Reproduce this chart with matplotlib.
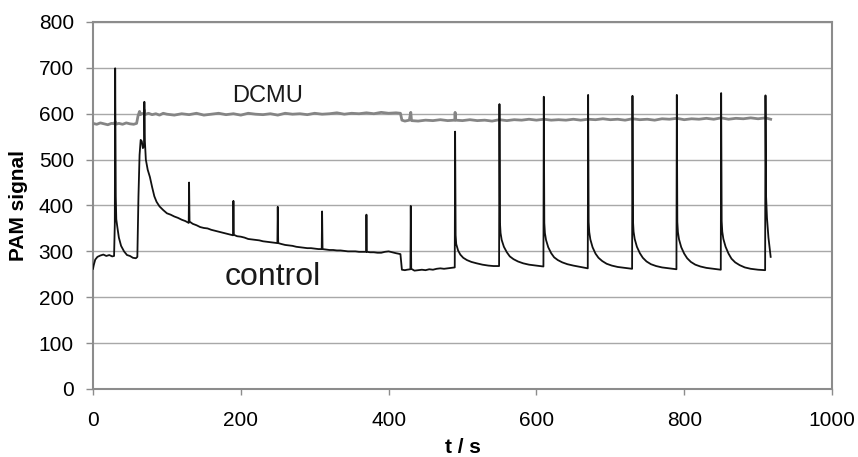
import numpy as np
import matplotlib
matplotlib.use("Agg")
import matplotlib.pyplot as plt

# PAM fluorescence traces as (t in s, signal) points
control_pts = [
    (0, 262), (1, 270), (3, 282), (6, 288), (10, 291), (14, 293), (18, 290),
    (22, 292), (26, 289), (28.5, 290), (29.5, 360), (30, 699), (30.8, 420),
    (31.5, 370), (33, 352), (35, 330), (38, 312), (42, 300), (46, 292),
    (50, 290), (54, 286), (58, 285), (60, 288), (61.5, 420), (63, 510),
    (64.5, 543), (66, 540), (67.5, 525), (69, 530), (69.5, 626), (70.2, 540),
    (71.5, 500), (74, 478), (77, 462), (80, 440), (83, 420), (86, 408),
    (90, 398), (95, 390), (100, 383), (105, 380), (110, 376), (115, 373),
    (120, 369), (125, 366), (129.5, 362), (130, 450), (130.6, 365),
    (135, 360), (140, 357), (145, 353), (150, 351), (155, 350), (160, 347),
    (165, 345), (170, 343), (175, 341), (180, 339), (185, 337), (189.5, 335),
    (190, 410), (190.6, 336), (195, 333), (200, 332), (205, 330), (210, 327),
    (215, 326), (220, 325), (225, 324), (230, 322), (235, 321), (240, 320),
    (245, 319), (249.5, 318), (250, 397), (250.6, 318), (255, 316),
    (260, 314), (265, 313), (270, 312), (275, 310), (280, 309), (285, 308),
    (290, 307), (295, 307), (300, 306), (305, 305), (309.5, 305), (310, 387),
    (310.6, 305), (315, 304), (320, 303), (325, 303), (330, 302), (335, 302),
    (340, 301), (345, 300), (350, 300), (355, 300), (360, 299), (364, 299),
    (369.5, 299), (370, 380), (370.6, 299), (375, 298), (380, 298),
    (385, 297), (390, 297), (395, 299), (400, 300), (405, 298), (410, 296),
    (416, 294), (418, 260), (422, 259), (425, 260), (429.5, 261), (430, 399),
    (430.6, 262), (435, 258), (440, 259), (445, 260), (450, 259), (455, 261),
    (460, 260), (465, 262), (470, 263), (475, 262), (480, 263), (485, 264),
    (489.5, 265),
    # flashes every 60 s
    (490, 561), (490.7, 335), (491.5, 316), (494, 302), (497, 293),
    (501, 286), (506, 281), (512, 277), (519, 274), (527, 271), (535, 269),
    (542, 268), (549.5, 268),
    (550, 621), (550.7, 362), (551.5, 340), (553, 325), (556, 310),
    (560, 298), (564, 289), (569, 283), (575, 278), (582, 274), (590, 271),
    (600, 269), (609.5, 267),
    (610, 637), (610.7, 362), (611.5, 340), (613, 325), (616, 309),
    (620, 296), (624, 287), (629, 281), (635, 276), (642, 272), (650, 269),
    (660, 266), (669.5, 263),
    (670, 641), (670.7, 364), (671.5, 342), (673, 326), (676, 309),
    (680, 295), (684, 286), (689, 279), (695, 273), (702, 269), (710, 266),
    (720, 264), (729.5, 262),
    (730, 639), (730.7, 366), (731.5, 343), (733, 327), (736, 310),
    (740, 296), (744, 286), (749, 278), (755, 272), (762, 268), (770, 265),
    (780, 263), (789.5, 261),
    (790, 641), (790.7, 364), (791.5, 342), (793, 326), (796, 309),
    (800, 295), (804, 285), (809, 277), (815, 271), (822, 267), (830, 264),
    (840, 262), (849.5, 260),
    (850, 645), (850.7, 366), (851.5, 343), (853, 327), (856, 310),
    (860, 295), (864, 284), (869, 276), (875, 270), (882, 265), (890, 262),
    (900, 260), (909.5, 259),
    (910, 640), (910.8, 420), (912, 373), (914, 330), (917, 288),
]

dcmu_pts = [
    (0, 579), (5, 577), (10, 580), (15, 578), (20, 576), (25, 579),
    (29.8, 578), (30, 583), (30.4, 577), (35, 579), (40, 577), (45, 580),
    (50, 578), (55, 577), (59, 579), (61, 596), (63, 605), (64, 598),
    (66, 600), (69.4, 601), (69.6, 608), (70, 598), (75, 601), (80, 598),
    (85, 600), (90, 597), (95, 601), (100, 599), (110, 597), (120, 600),
    (130, 598), (140, 601), (150, 597), (160, 599), (170, 601), (180, 598),
    (190, 600), (200, 597), (210, 601), (220, 599), (230, 598), (240, 600),
    (250, 597), (260, 601), (270, 599), (280, 600), (290, 598), (300, 601),
    (310, 599), (320, 600), (330, 602), (340, 599), (350, 601), (360, 600),
    (370, 602), (380, 600), (390, 603), (400, 601), (410, 602), (416, 601),
    (418, 586), (422, 584), (428, 586), (430, 603), (431, 585), (440, 584),
    (450, 586), (460, 585), (470, 587), (480, 585), (489.5, 586), (490, 603),
    (490.6, 586), (500, 585), (510, 587), (520, 585), (530, 586), (540, 584),
    (550, 587), (560, 585), (570, 587), (580, 586), (590, 588), (600, 586),
    (610, 588), (620, 586), (630, 587), (640, 586), (650, 588), (660, 586),
    (670, 588), (680, 587), (690, 589), (700, 587), (710, 588), (720, 586),
    (730, 589), (740, 587), (750, 588), (760, 586), (770, 589), (780, 588),
    (790, 590), (800, 587), (810, 589), (820, 588), (830, 590), (840, 588),
    (850, 591), (860, 588), (870, 590), (880, 589), (890, 591), (900, 589),
    (910, 591), (917, 588),
]

x_ticks = [0, 200, 400, 600, 800, 1000]
y_ticks = [0, 100, 200, 300, 400, 500, 600, 700, 800]

plt.rcParams['font.family'] = ['Liberation Sans', 'DejaVu Sans']

fig = plt.figure(figsize=(8.58, 4.57), dpi=100)
ax = fig.add_axes([0.1084, 0.1488, 0.8613, 0.8031])

ct, cv = np.array(control_pts).T
dt, dv = np.array(dcmu_pts).T
ax.plot(dt, dv, color='#858585', lw=2.0, zorder=3)
ax.plot(ct, cv, color='#111111', lw=1.3, zorder=4)

ax.text(236, 639, "DCMU", fontsize=17, ha='center', va='center', color='#1a1a1a')
ax.text(243, 227, "control", fontsize=23, ha='center', va='baseline', color='#1a1a1a')

ax.set_xlim(0, 1000)
ax.set_ylim(0, 800)
ax.set_xticks(x_ticks)
ax.set_yticks(y_ticks)
ax.yaxis.grid(True, color='#a8a8a8', lw=1)
ax.set_axisbelow(True)
for s in ax.spines.values():
    s.set_color('#8c8c8c')
    s.set_linewidth(1.5)
ax.tick_params(axis='x', length=4.5, width=1, color='#8c8c8c', labelsize=15, pad=11)
ax.tick_params(axis='y', length=5.4, width=1, color='#8c8c8c', labelsize=15, pad=8.4)

ax.set_xlabel("t / s", fontsize=15, fontweight='bold')
ax.set_ylabel("PAM signal", fontsize=15, fontweight='bold')
ax.xaxis.set_label_coords(0.5, -0.134)
ax.yaxis.set_label_coords(-0.088, 0.5)

fig.savefig("out.png", dpi=100)
